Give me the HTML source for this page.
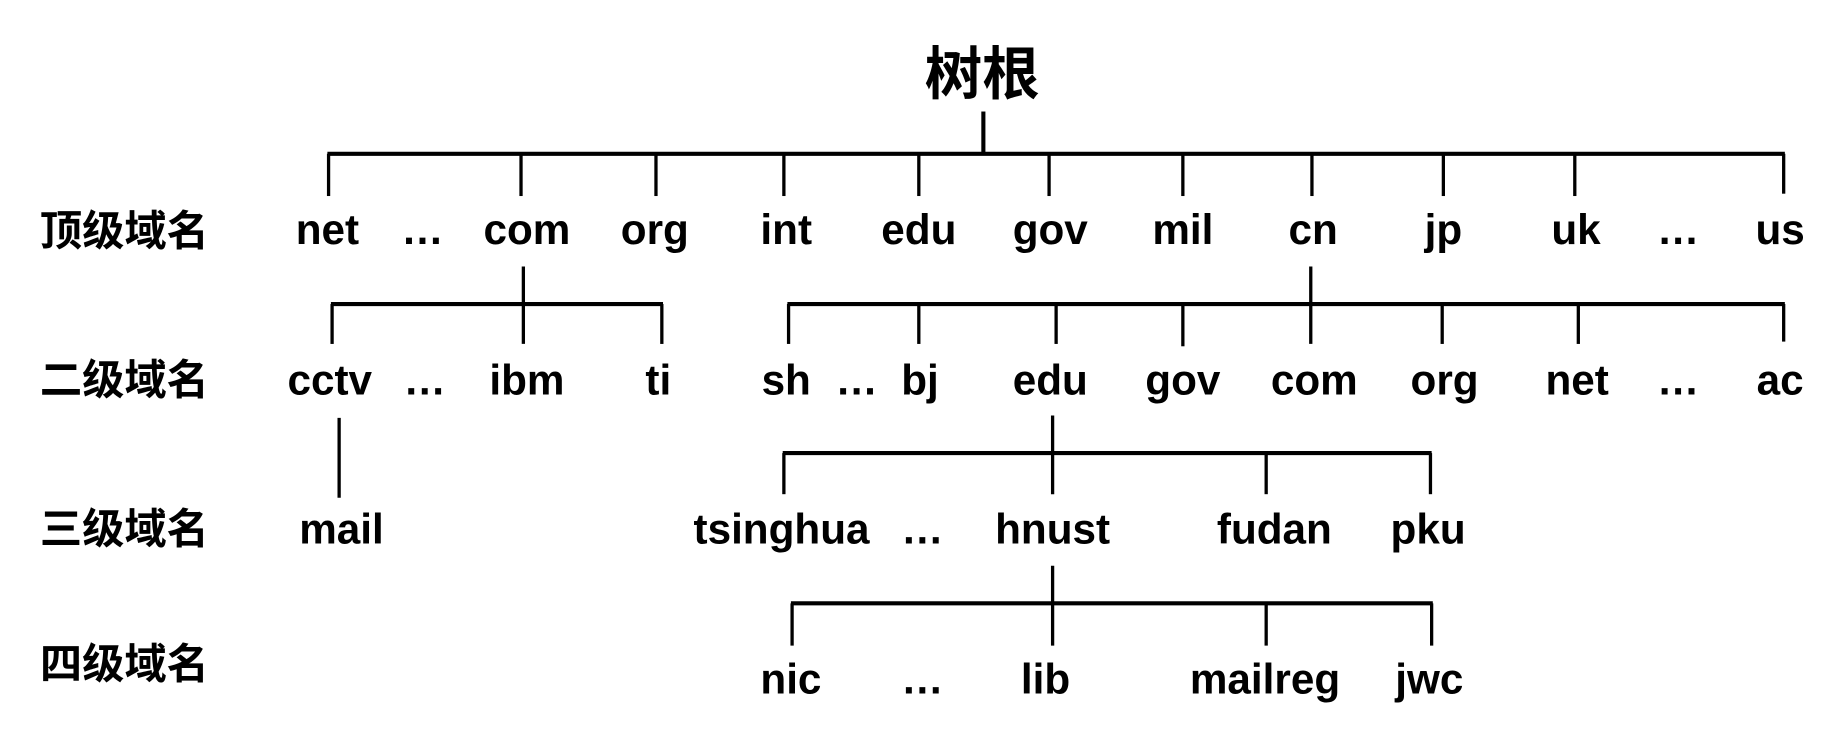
<!DOCTYPE html>
<html><head><meta charset="utf-8"><style>
html,body{margin:0;padding:0;background:#fff;}
svg{display:block;}
text{font-family:"Liberation Sans","Noto Sans CJK SC",sans-serif;font-weight:bold;fill:#000;text-anchor:middle;}
.l{font-size:36px;}
.r{font-family:"Noto Sans CJK SC","WenQuanYi Zen Hei",sans-serif;font-size:36px;text-anchor:start;}
</style></head><body>
<svg width="1840" height="736" viewBox="0 0 1568 627" preserveAspectRatio="none">
<g stroke="#000" stroke-width="3.5" fill="none">
<line x1="838" y1="95" x2="838" y2="131"/>
<line x1="279" y1="131" x2="1521" y2="131"/>
<g stroke-width="2.8">
<line x1="280" y1="131" x2="280" y2="167"/><line x1="444" y1="131" x2="444" y2="167"/><line x1="559" y1="131" x2="559" y2="167"/><line x1="668" y1="131" x2="668" y2="167"/><line x1="783" y1="131" x2="783" y2="167"/><line x1="894" y1="131" x2="894" y2="167"/><line x1="1008" y1="131" x2="1008" y2="167"/><line x1="1118" y1="131" x2="1118" y2="167"/><line x1="1230" y1="131" x2="1230" y2="167"/><line x1="1342" y1="131" x2="1342" y2="167"/><line x1="1520" y1="131" x2="1520" y2="165"/>
<line x1="446" y1="227" x2="446" y2="293"/><line x1="283" y1="259" x2="283" y2="293"/><line x1="564" y1="259" x2="564" y2="293"/>
<line x1="1117" y1="227" x2="1117" y2="293"/>
<line x1="672" y1="259" x2="672" y2="293"/><line x1="783" y1="259" x2="783" y2="293"/><line x1="900" y1="259" x2="900" y2="293"/><line x1="1008" y1="259" x2="1008" y2="295"/><line x1="1229" y1="259" x2="1229" y2="293"/><line x1="1345" y1="259" x2="1345" y2="293"/><line x1="1520" y1="259" x2="1520" y2="291"/>
<line x1="289" y1="356" x2="289" y2="424"/>
<line x1="897" y1="354" x2="897" y2="421"/><line x1="668" y1="386" x2="668" y2="421"/><line x1="1079" y1="386" x2="1079" y2="421"/><line x1="1219" y1="386" x2="1219" y2="421"/>
<line x1="897" y1="482" x2="897" y2="550"/><line x1="675" y1="514" x2="675" y2="550"/><line x1="1079" y1="514" x2="1079" y2="550"/><line x1="1220" y1="514" x2="1220" y2="550"/>
</g>
<line x1="282" y1="259" x2="565" y2="259"/>
<line x1="671" y1="259" x2="1521" y2="259"/>
<line x1="667" y1="386" x2="1220" y2="386"/>
<line x1="674" y1="514" x2="1221" y2="514"/>
</g>
<text x="837" y="80" style="font-family:'Noto Sans CJK SC',sans-serif;font-size:49px">树根</text>
<text class="r" x="34" y="209">顶级域名</text>
<text class="r" x="34" y="336">二级域名</text>
<text class="r" x="34" y="463">三级域名</text>
<text class="r" x="34" y="578">四级域名</text>
<g class="l">
<text x="279" y="208">net</text><text x="360" y="208">…</text><text x="449" y="208">com</text><text x="558" y="208">org</text><text x="670" y="208">int</text><text x="783" y="208">edu</text><text x="895" y="208">gov</text><text x="1008" y="208">mil</text><text x="1119" y="208">cn</text><text x="1230" y="208">jp</text><text x="1343" y="208">uk</text><text x="1430" y="208">…</text><text x="1517" y="208">us</text>
<text x="281" y="336">cctv</text><text x="362" y="336">…</text><text x="449" y="336">ibm</text><text x="561" y="336">ti</text><text x="670" y="336">sh</text><text x="730" y="336">…</text><text x="784" y="336">bj</text><text x="895" y="336">edu</text><text x="1008" y="336">gov</text><text x="1120" y="336">com</text><text x="1231" y="336">org</text><text x="1344" y="336">net</text><text x="1430" y="336">…</text><text x="1517" y="336">ac</text>
<text x="291" y="463">mail</text><text x="666" y="463">tsinghua</text><text x="786" y="463">…</text><text x="897" y="463">hnust</text><text x="1086" y="463">fudan</text><text x="1217" y="463">pku</text>
<text x="674" y="591">nic</text><text x="786" y="591">…</text><text x="891" y="591">lib</text><text x="1078" y="591">mailreg</text><text x="1218" y="591">jwc</text>
</g>
</svg>
</body></html>
